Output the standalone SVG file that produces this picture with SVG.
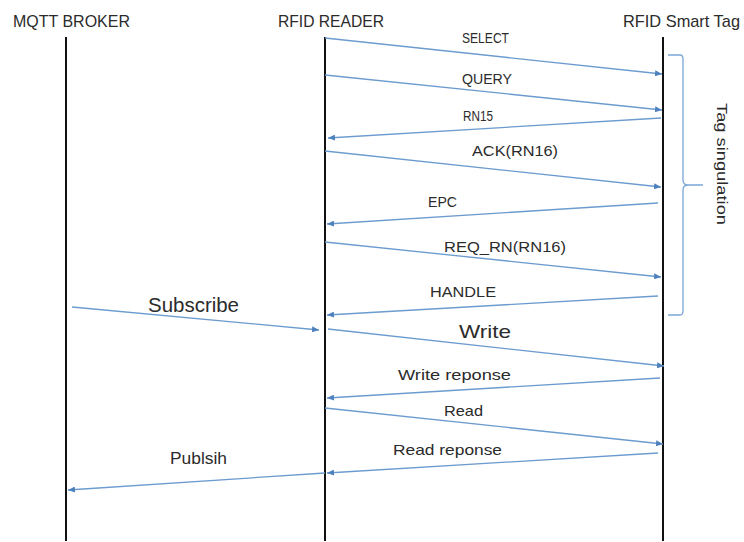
<svg xmlns="http://www.w3.org/2000/svg" width="744" height="542" viewBox="0 0 744 542">
<defs>
<style>
.life{stroke:#111;stroke-width:2;fill:none}
.msg{stroke:#6b9bcf;stroke-width:1.3;fill:none;marker-end:url(#ah)}
.t{font-family:"Liberation Sans",Arial,sans-serif;fill:#2b2b2b}
.h{font-size:17px}
.s{font-size:15px}
.brace{stroke:#7aa7d6;stroke-width:1.3;fill:none}
</style>
<marker id="ah" markerUnits="userSpaceOnUse" markerWidth="8" markerHeight="6" refX="7" refY="3" orient="auto">
<path d="M0,0 L7,3 L0,6 z" fill="#4f81bd"/>
</marker>
</defs>
<rect width="744" height="542" fill="#fff"/>
<g id="mqtt">
<line class="life" x1="66" y1="37" x2="66" y2="541"/>
<text class="t h" x="13" y="27" textLength="117" lengthAdjust="spacingAndGlyphs">MQTT BROKER</text>
</g>
<g id="reader">
<line class="life" x1="325" y1="37" x2="325" y2="541"/>
<text class="t h" x="278" y="27" textLength="106" lengthAdjust="spacingAndGlyphs">RFID READER</text>
</g>
<g id="tag">
<line class="life" x1="663" y1="37" x2="663" y2="541"/>
<text class="t h" x="623" y="27" textLength="117" lengthAdjust="spacingAndGlyphs">RFID Smart Tag</text>
</g>
<g id="singulation">
<path class="brace" d="M668,55 H680 Q683,55 683,59 V180 Q683,185 688,185 H703 M688,185 Q683,185 683,190 V311 Q683,315 680,315 H668"/>
<text class="t s" x="0" y="0" text-anchor="middle" transform="translate(717,164) rotate(90)" textLength="122" lengthAdjust="spacingAndGlyphs">Tag singulation</text>
</g>
<g id="connectors">
<line class="msg" x1="325" y1="38" x2="662" y2="74"/>
<line class="msg" x1="325" y1="75" x2="662" y2="110"/>
<line class="msg" x1="661" y1="118" x2="328" y2="138"/>
<line class="msg" x1="325" y1="151" x2="661" y2="187"/>
<line class="msg" x1="658" y1="203" x2="327" y2="224"/>
<line class="msg" x1="325" y1="242" x2="661" y2="277"/>
<line class="msg" x1="658" y1="296" x2="327" y2="315"/>
<line class="msg" x1="72" y1="307" x2="319" y2="330"/>
<line class="msg" x1="328" y1="329" x2="664" y2="366"/>
<line class="msg" x1="660" y1="378" x2="327" y2="398"/>
<line class="msg" x1="325" y1="408" x2="663" y2="444"/>
<line class="msg" x1="658" y1="453" x2="327" y2="473"/>
<line class="msg" x1="325" y1="473" x2="68" y2="490"/>
</g>
<g id="labels">
<text class="t s" x="462" y="43" textLength="47" lengthAdjust="spacingAndGlyphs">SELECT</text>
<text class="t s" x="462" y="84" textLength="50" lengthAdjust="spacingAndGlyphs">QUERY</text>
<text class="t s" x="463" y="121" textLength="30" lengthAdjust="spacingAndGlyphs">RN15</text>
<text class="t s" x="472" y="156" textLength="86" lengthAdjust="spacingAndGlyphs">ACK(RN16)</text>
<text class="t s" x="428" y="207" textLength="29" lengthAdjust="spacingAndGlyphs">EPC</text>
<text class="t s" x="444" y="252" textLength="122" lengthAdjust="spacingAndGlyphs">REQ_RN(RN16)</text>
<text class="t s" x="430" y="297" textLength="66" lengthAdjust="spacingAndGlyphs">HANDLE</text>
<text class="t" font-size="20" x="148" y="312" textLength="91" lengthAdjust="spacingAndGlyphs">Subscribe</text>
<text class="t" font-size="19" x="459" y="338" textLength="52" lengthAdjust="spacingAndGlyphs">Write</text>
<text class="t s" x="398" y="380" textLength="113" lengthAdjust="spacingAndGlyphs">Write reponse</text>
<text class="t s" x="444" y="416" textLength="39" lengthAdjust="spacingAndGlyphs">Read</text>
<text class="t s" x="393" y="455" textLength="109" lengthAdjust="spacingAndGlyphs">Read reponse</text>
<text class="t" font-size="16" x="170" y="464" textLength="57" lengthAdjust="spacingAndGlyphs">Publsih</text>
</g>
</svg>
